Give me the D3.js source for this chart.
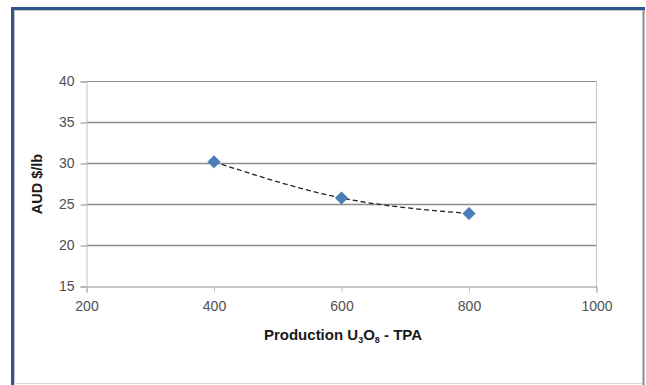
<!DOCTYPE html>
<html>
<head>
<meta charset="utf-8">
<script src="https://cdn.jsdelivr.net/npm/d3@7"></script>
<style>
  html, body { margin: 0; padding: 0; background: #fff; }
  svg { display: block; }
  text { font-family: "Liberation Sans", Arial, sans-serif; }
</style>
</head>
<body>
<svg id="chart" width="646" height="385"></svg>
<script>
// Production volume (tonnes per annum) and operating cost (AUD $/lb)
const production = [400, 600, 800];
const costAUD = [30.2, 25.8, 23.9];
const xTicks = [200, 400, 600, 800, 1000];
const yTicks = [15, 20, 25, 30, 35, 40];

const svg = d3.select("#chart");
const W = 646, H = 385;

// Outer frame
svg.append("rect").attr("x", 0).attr("y", 0).attr("width", W).attr("height", H).attr("fill", "#fff");
svg.append("line").attr("x1", 14.5).attr("x2", 14.5).attr("y1", 10).attr("y2", H).attr("stroke", "#c8c8c8").attr("stroke-width", 1);
svg.append("line").attr("x1", 14).attr("x2", 642).attr("y1", 10.5).attr("y2", 10.5).attr("stroke", "#c8c8c8").attr("stroke-width", 1);
svg.append("line").attr("x1", 11).attr("x2", 645).attr("y1", 8.5).attr("y2", 8.5).attr("stroke", "#2f5590").attr("stroke-width", 3);
svg.append("line").attr("x1", 12.5).attr("x2", 12.5).attr("y1", 7).attr("y2", H).attr("stroke", "#2f5590").attr("stroke-width", 3);
svg.append("line").attr("x1", 643.5).attr("x2", 643.5).attr("y1", 10).attr("y2", H).attr("stroke", "#8a8a8a").attr("stroke-width", 2);
svg.append("line").attr("x1", 14).attr("x2", 642).attr("y1", 383.5).attr("y2", 383.5).attr("stroke", "#d8d8d8").attr("stroke-width", 1);

const x = d3.scaleLinear().domain([200, 1000]).range([86.5, 596.5]);
const y = d3.scaleLinear().domain([15, 40]).range([286.5, 81.5]);

// Horizontal gridlines
svg.append("g").selectAll("line").data(yTicks.filter(v => v > 15 && v < 40)).join("line")
  .attr("x1", x(200)).attr("x2", x(1000))
  .attr("y1", d => y(d)).attr("y2", d => y(d))
  .attr("stroke", "#8c8c8c").attr("stroke-width", 1.5);

// Top gridline and right edge of the plot area
svg.append("line").attr("x1", x(200)).attr("x2", x(1000)).attr("y1", y(40)).attr("y2", y(40))
  .attr("stroke", "#8c8c8c").attr("stroke-width", 1);
svg.append("line").attr("x1", x(1000)).attr("x2", x(1000)).attr("y1", y(40)).attr("y2", y(15))
  .attr("stroke", "#c4c4c4").attr("stroke-width", 1);

// Y axis
const yAxis = svg.append("g").attr("transform", `translate(${x(200)},0)`)
  .call(d3.axisLeft(y).tickValues(yTicks).tickSize(6).tickPadding(6));
yAxis.select(".domain").attr("stroke", "#c4c4c4");
yAxis.selectAll(".tick line").attr("stroke", "#8c8c8c");
yAxis.selectAll(".tick text").attr("font-size", 14).attr("fill", "#505050");

// X axis
const xAxis = svg.append("g").attr("transform", `translate(0,${y(15)})`)
  .call(d3.axisBottom(x).tickValues(xTicks).tickFormat(d3.format("d")).tickSize(6).tickPadding(9));
xAxis.select(".domain").attr("stroke", "#8c8c8c");
xAxis.selectAll(".tick line").attr("stroke", "#c4c4c4");
xAxis.selectAll(".tick text").attr("font-size", 14).attr("fill", "#505050");

// Axis titles
svg.append("text")
  .attr("transform", `translate(42,${(y(40) + y(15)) / 2}) rotate(-90)`)
  .attr("text-anchor", "middle").attr("font-size", 14.5).attr("font-weight", "bold").attr("fill", "#1a1a1a")
  .text("AUD $/lb");

const xt = svg.append("text")
  .attr("x", 343).attr("y", 340)
  .attr("text-anchor", "middle").attr("font-size", 15).attr("font-weight", "bold").attr("fill", "#1a1a1a");
xt.append("tspan").text("Production U");
xt.append("tspan").attr("font-size", 9).attr("dy", 3).text("3");
xt.append("tspan").attr("dy", -3).text("O");
xt.append("tspan").attr("font-size", 9).attr("dy", 3).text("8");
xt.append("tspan").attr("dy", -3).text(" - TPA");

const pts = production.map((p, i) => [p, costAUD[i]]);

// Dashed trend curve
svg.append("path").datum(pts)
  .attr("d", d3.line().x(d => x(d[0])).y(d => y(d[1])).curve(d3.curveNatural))
  .attr("fill", "none").attr("stroke", "#222").attr("stroke-width", 1.3)
  .attr("stroke-dasharray", "5,3");

// Diamond markers
svg.append("g").selectAll("path").data(pts).join("path")
  .attr("transform", d => `translate(${x(d[0])},${y(d[1])})`)
  .attr("d", d3.symbol().type(d3.symbolDiamond2).size(100))
  .attr("fill", "#4a7ebb").attr("stroke", "#3f6fa8").attr("stroke-width", 0.5);
</script>
</body>
</html>
